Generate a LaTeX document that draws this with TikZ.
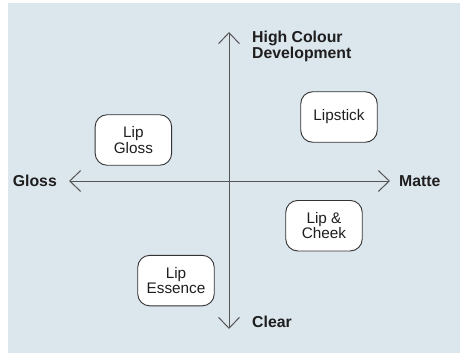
\documentclass[tikz,border=0pt]{standalone}
\usepackage{fontspec}
\setmainfont{Liberation Sans}
\usetikzlibrary{arrows.meta}
\definecolor{bgblue}{HTML}{DCE6ED}
\definecolor{axisgray}{HTML}{555555}
\definecolor{boxline}{HTML}{333333}
\definecolor{textdark}{HTML}{1E1E1E}
\tikzset{
  prodbox/.style={draw=boxline, line width=0.9pt, fill=white, rounded corners=12pt,
    minimum width=76.5pt, minimum height=50.5pt, align=center, inner sep=2pt,
    text=textdark, font=\fontsize{15.3}{15.4}\selectfont},
  axislabel/.style={font=\bfseries\fontsize{15.8}{15.9}\selectfont, text=textdark, inner sep=0pt, align=left},
  axisline/.style={draw=axisgray, line width=1pt,
    arrows={Straight Barb[length=11pt,width=21pt,line width=1pt]-Straight Barb[length=11pt,width=21pt,line width=1pt]}}
}
\begin{document}
\begin{tikzpicture}[x=1pt,y=-1pt]
\useasboundingbox (0,0) rectangle (467,356);
\fill[bgblue] (8,3) rectangle (460,353);
\coordinate (top) at (229,32);
\coordinate (bot) at (229,329);
\coordinate (left) at (69,181);
\coordinate (right) at (390,181);
\draw[axisline] (bot) -- (top);
\draw[axisline] (left) -- (right);
\node[axislabel, anchor=west] (hcd) at (252,46) {High Colour\\Development};
\node[axislabel, anchor=west] (clear) at (252,321.5) {Clear};
\node[axislabel, anchor=east] (gloss) at (57,181) {Gloss};
\node[axislabel, anchor=west] (matte) at (399,181) {Matte};
\node[prodbox] (lipgloss) at (133.4,140) {Lip\\Gloss};
\node[prodbox] (lipstick) at (339,117) {Lipstick};
\node[prodbox] (cheek) at (324,225.7) {Lip \&\\Cheek};
\node[prodbox] (essence) at (176,280.6) {Lip\\Essence};
\end{tikzpicture}
\end{document}
